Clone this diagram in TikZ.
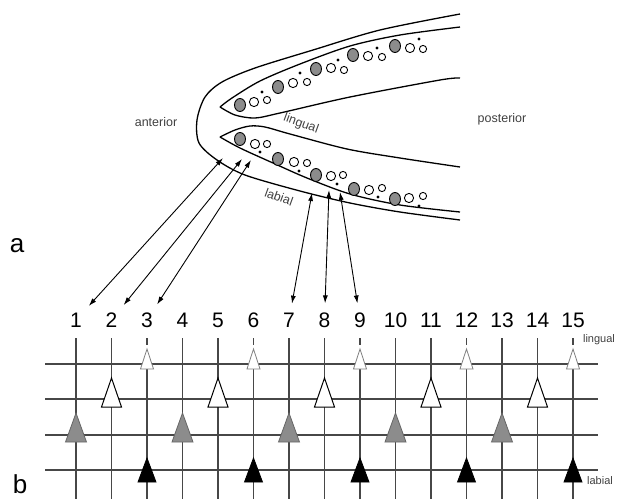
\documentclass[tikz,border=0pt]{standalone}
\usepackage{fontspec}
\setmainfont{Liberation Sans}
\usetikzlibrary{arrows.meta}

% triangle marker: x, base y, width, height, style
\newcommand{\drawtri}[5]{\draw[#5] (#1-#3/2,#2) -- (#1,#2-#4) -- (#1+#3/2,#2) -- cycle;}

\tikzset{
  jaw/.style={line width=1.3pt, black},
  gridline/.style={line width=1.2pt, black!72},
  link/.style={<->, line width=0.9pt, shorten >=7pt},
  num/.style={font=\fontsize{21}{23}\selectfont, inner sep=2pt},
  tag/.style={font=\fontsize{12.5}{13}\selectfont, text=black!75, inner sep=1pt},
  rowtag/.style={font=\fontsize{11}{12}\selectfont, text=black!75, inner sep=1pt},
  panel/.style={font=\fontsize{26}{28}\selectfont},
  toothgrey/.style={fill=black!45, draw=black, line width=0.9pt},
  toothwhite/.style={fill=white, draw=black, line width=0.9pt},
  smalltri/.style={fill=white, draw=black!50, line width=0.8pt},
  whitetri/.style={fill=white, draw=black, line width=1pt},
  greytri/.style={fill=black!45, draw=black!60, line width=0.8pt},
  blacktri/.style={fill=black, draw=black, line width=0.8pt},
}

\begin{document}
\begin{tikzpicture}[x=1pt, y=-1pt, >={Latex[length=8pt,width=5pt]}]
\useasboundingbox (0,0) rectangle (621,499);

% jaw outline
\draw[jaw] plot[smooth] coordinates {(460,14) (380,30) (313,50) (255,68) (222,82) (205,97) (197,120) (199,143) (217,160) (245,175) (300,191) (350,203) (400,212) (460,220)};
% upper jaw band
\draw[jaw] plot[smooth] coordinates {(460,27) (400,35) (350,46) (300,64) (260,81) (232,98) (220,107)};
\draw[jaw] plot[smooth] coordinates {(220,107) (235,115) (255,118) (280,113) (350,97) (440,80) (460,78)};
% lower jaw band
\draw[jaw] plot[smooth] coordinates {(460,167) (400,158) (347,149) (290,134) (265,127) (250,126) (235,130) (220,137)};
\draw[jaw] plot[smooth] coordinates {(220,137) (240,148) (273,163) (307,178) (350,194) (400,205) (460,212)};

% tooth families: grey, two white, dot
\foreach \gx/\gy/\ax/\ay/\bx/\by/\dx/\dy in {
  240/105/254/102/267/100/262/92, 278/87/293/83/307/82/300/73,
  316/69/331/68/344/70/338/60, 353/55/368/56/382/57/377/48,
  395/46/410/48/423/49/419/39,
  240/139/255/144/267/144/260/152, 278/159/294/162/307/163/299/171,
  316/175/331/176/343/175/337/184, 354/189/369/190/382/188/378/197,
  395/199/409/198/423/196/419/206}{
  \draw[toothgrey] (\gx,\gy) ellipse (5.5 and 6.5);
  \draw[toothwhite] (\ax,\ay) circle (4.6);
  \draw[toothwhite] (\bx,\by) circle (3.6);
  \fill (\dx,\dy) circle (1.7);
}

\node[tag] (anterior) at (156,122) {anterior};
\node[tag] (posterior) at (502,119) {posterior};
\node[tag, rotate=-20] (lingjaw) at (301,124) {lingual};
\node[tag, rotate=-20] (labjaw) at (279,197) {labial};
\node[panel] (pa) at (17,246) {a};
\node[panel] (pb) at (20,484) {b};

% tooth positions
\coordinate (p1) at (223,158);
\coordinate (p2) at (242,159);
\coordinate (p3) at (251,160);
\coordinate (p7) at (312,193);
\coordinate (p8) at (329,190);
\coordinate (p9) at (340,192);

% numbered positions
\foreach \i in {1,...,15}{
  \pgfmathsetmacro\x{76+(\i-1)*35.5}
  \node[num] (n\i) at (\x,320) {\i};
}

\foreach \i in {1,2,3,7,8,9}
  \draw[link] (p\i) -- (n\i);

% grid
\foreach \r in {364,399,435,470}
  \draw[gridline] (45,\r) -- (598,\r);
\foreach \i in {1,2,4,5,7,8,10,11,13,14}{
  \pgfmathsetmacro\x{76+(\i-1)*35.5}
  \draw[gridline] (\x,338) -- (\x,499);
}
\foreach \i in {3,6,...,15}{
  \pgfmathsetmacro\x{76+(\i-1)*35.5}
  \draw[gridline] (\x,338) -- (\x,345);
  \draw[gridline] (\x,369) -- (\x,499);
  \drawtri{\x}{369}{13}{20}{smalltri}
  \drawtri{\x}{482}{18}{24}{blacktri}
}
\foreach \i in {2,5,...,14}{
  \pgfmathsetmacro\x{76+(\i-1)*35.5}
  \drawtri{\x}{407}{20}{29}{whitetri}
}
\foreach \i in {1,4,...,13}{
  \pgfmathsetmacro\x{76+(\i-1)*35.5}
  \drawtri{\x}{442}{21}{29}{greytri}
}

\node[rowtag] (lingrow) at (599,340) {lingual};
\node[rowtag] (labrow) at (600,481) {labial};

\end{tikzpicture}
\end{document}
